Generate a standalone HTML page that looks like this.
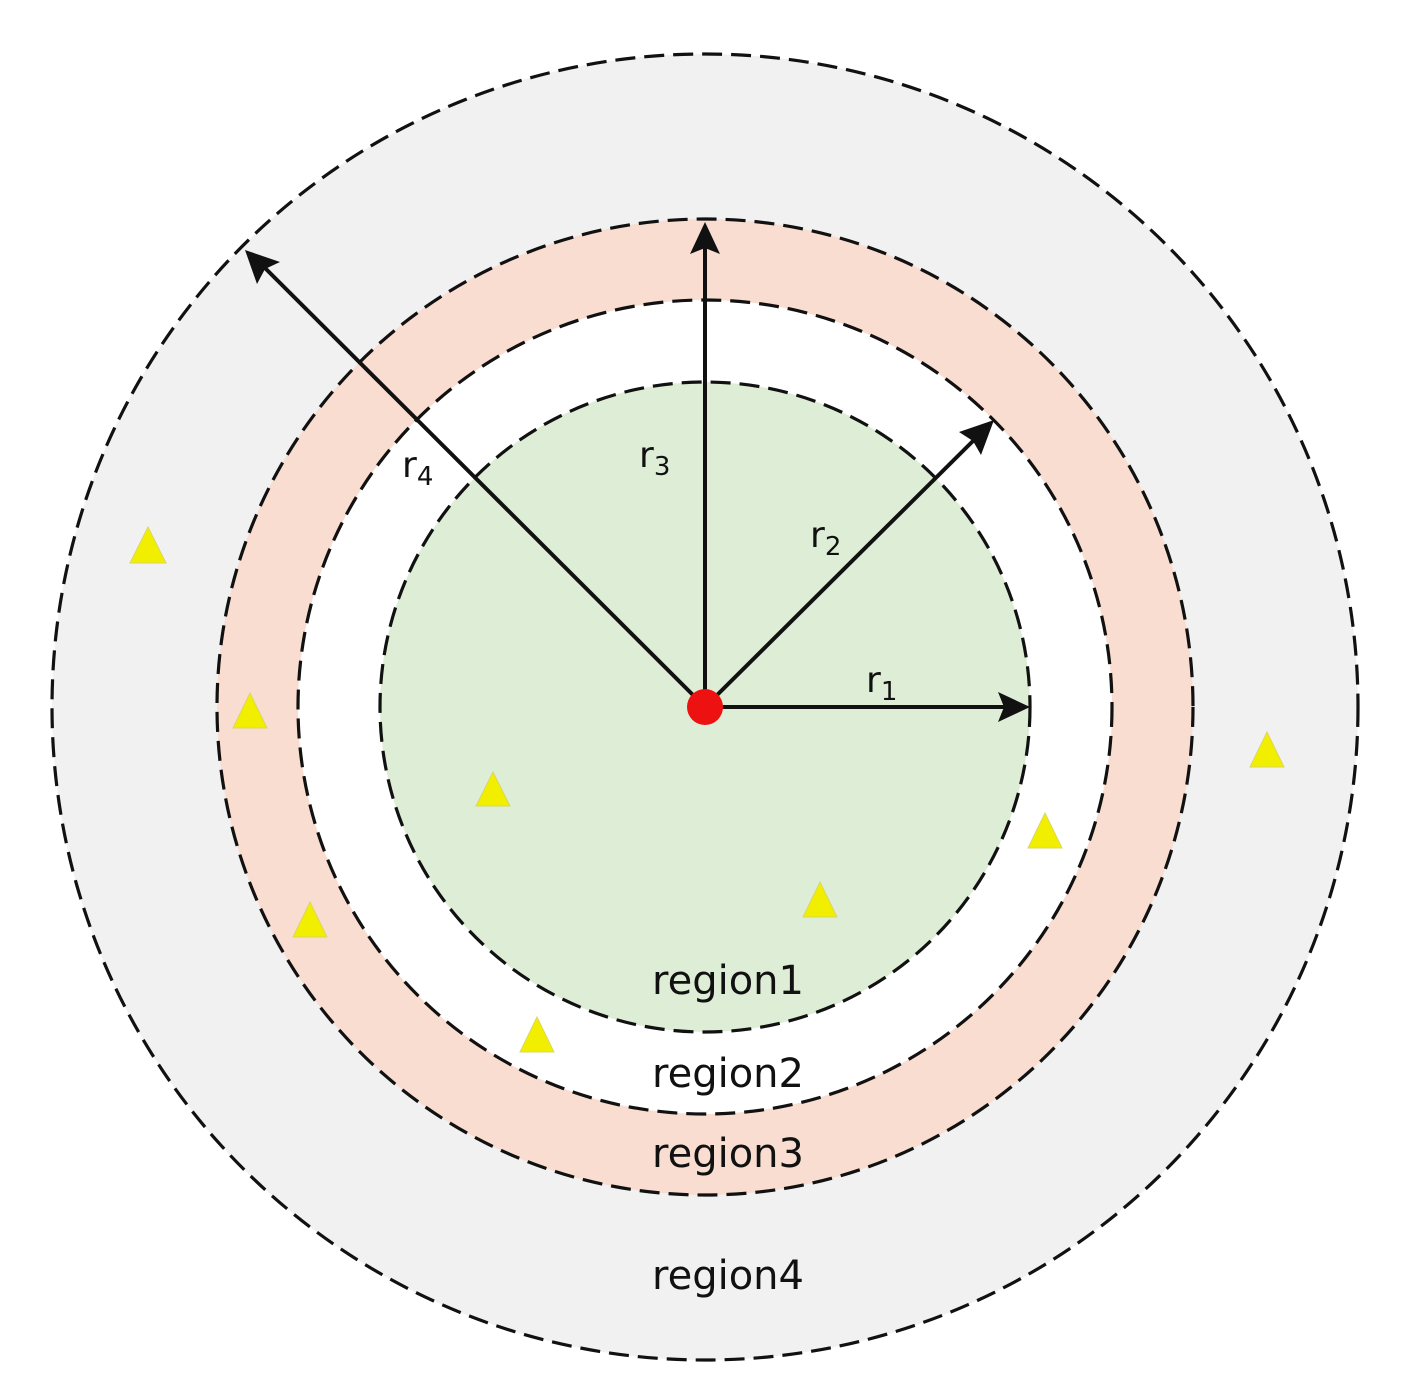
<!DOCTYPE html>
<html><head><meta charset="utf-8"><style>
html,body{margin:0;padding:0;background:#fff;}
svg{display:block;}
text{font-family:"DejaVu Sans","Liberation Sans",sans-serif;fill:#111;}
</style></head><body>
<svg width="1401" height="1397" viewBox="0 0 1401 1397" xmlns="http://www.w3.org/2000/svg">
<g stroke="#111" stroke-width="3.2" stroke-dasharray="20 9">
<circle cx="705" cy="707" r="653" fill="#f1f1f2"/>
<circle cx="705" cy="707" r="488" fill="#f9ddd0"/>
<circle cx="705" cy="707" r="407" fill="#ffffff"/>
<circle cx="705" cy="707" r="325" fill="#deedd6"/>
</g>
<g stroke="#111" stroke-width="4" fill="none">
<line x1="705" y1="707" x2="1005" y2="707"/>
<line x1="705" y1="707" x2="976" y2="438"/>
<line x1="705" y1="707" x2="705" y2="248"/>
<line x1="705" y1="707" x2="265" y2="268"/>
</g>
<g fill="#111">
<polygon points="1030,707 998,692 1004,707 998,722"/>
<polygon points="994,420 959,432 973,441 981,455"/>
<polygon points="705,222 690,254 705,248 720,254"/>
<polygon points="245,250 257,284 265,269 280,262"/>
</g>
<circle cx="705" cy="707" r="18" fill="#ee1111"/>
<g fill="#f2ee00" stroke="#d8d860" stroke-width="1">
<polygon points="148,527 130,563 166,563"/>
<polygon points="250,693 233,728 267,728"/>
<polygon points="493,772 476,806 510,806"/>
<polygon points="310,902 293,937 327,937"/>
<polygon points="537,1017 520,1052 554,1052"/>
<polygon points="820,882 803,917 837,917"/>
<polygon points="1045,813 1028,848 1062,848"/>
<polygon points="1267,732 1250,767 1284,767"/>
</g>
<g font-size="36">
<text x="866" y="692">r<tspan font-size="26" dy="8">1</tspan></text>
<text x="810" y="547">r<tspan font-size="26" dy="8">2</tspan></text>
<text x="639" y="467">r<tspan font-size="26" dy="8">3</tspan></text>
<text x="402" y="477">r<tspan font-size="26" dy="8">4</tspan></text>
</g>
<g font-size="40" text-anchor="middle">
<text x="728" y="994">region1</text>
<text x="728" y="1087">region2</text>
<text x="728" y="1167">region3</text>
<text x="728" y="1289">region4</text>
</g>
</svg>
</body></html>
